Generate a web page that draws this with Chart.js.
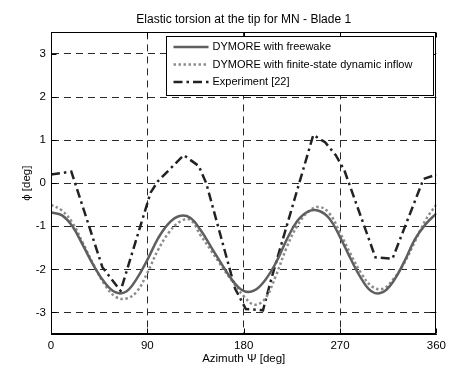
<!DOCTYPE html>
<html>
<head>
<meta charset="utf-8">
<script src="https://cdn.jsdelivr.net/npm/chart.js@4.4.0/dist/chart.umd.min.js"></script>
<style>
  html, body { margin: 0; padding: 0; background: #fff; }
  #wrap { width: 451px; height: 367px; }
</style>
</head>
<body>
<div id="wrap"><canvas id="torsionChart"></canvas></div>
<script>
// DYMORE runs, sampled every 10 deg of azimuth
const psiModel = [0, 10, 20, 30, 40, 50, 60, 70, 80, 90, 100, 110, 120, 130, 140, 150, 160, 170, 180,
                  190, 200, 210, 220, 230, 240, 250, 260, 270, 280, 290, 300, 310, 320, 330, 340, 350, 360];
const phiFreewake = [-0.68, -0.74, -1.0, -1.45, -1.92, -2.3, -2.53, -2.52, -2.22, -1.78, -1.28, -0.93, -0.76,
                     -0.8, -1.1, -1.5, -1.9, -2.27, -2.5, -2.49, -2.25, -1.85, -1.32, -0.88, -0.66, -0.64,
                     -0.82, -1.25, -1.76, -2.22, -2.52, -2.53, -2.27, -1.82, -1.3, -0.95, -0.7];
const phiInflow = [-0.5, -0.63, -0.92, -1.4, -1.9, -2.35, -2.63, -2.68, -2.52, -2.08, -1.55, -1.15, -0.9,
                   -0.85, -1.22, -1.58, -1.95, -2.3, -2.62, -2.82, -2.68, -2.15, -1.5, -0.99, -0.67, -0.55,
                   -0.7, -1.15, -1.65, -2.1, -2.4, -2.45, -2.22, -1.85, -1.35, -0.85, -0.5];

// measured torsion [22]
const psiExp = [0, 19, 48, 65, 93, 100, 124, 138, 145, 172, 182, 198, 206, 245, 256, 266, 274, 303, 319, 348, 360];
const phiExp = [0.2, 0.27, -1.95, -2.5, -0.22, 0.05, 0.65, 0.4, 0.0, -2.45, -2.92, -2.95, -2.2, 1.12, 0.95,
                0.65, 0.3, -1.72, -1.75, 0.1, 0.2];

const seriesNames = ['DYMORE with freewake', 'DYMORE with finite-state dynamic inflow', 'Experiment [22]'];
const xTicks = [0, 90, 180, 270, 360];
const yTicks = [-3, -2, -1, 0, 1, 2, 3];

const FONT = 'Liberation Sans, Arial, Helvetica, sans-serif';

function toPoints(xs, ys) {
  return xs.map((x, i) => ({ x: x, y: ys[i] }));
}

// box around the axes, inward tick marks and the boxed legend
const axesFrame = {
  id: 'axesFrame',
  afterDraw(chart) {
    const { ctx, chartArea: a, scales: { x, y } } = chart;
    const L = Math.round(a.left) + 0.5, R = Math.round(a.right) - 0.5;
    const T = Math.round(a.top) + 0.5, B = Math.round(a.bottom) - 0.5;
    ctx.save();
    ctx.setLineDash([]);
    ctx.strokeStyle = '#000';
    ctx.lineWidth = 1;
    ctx.beginPath();
    x.ticks.forEach(t => {
      const px = Math.round(x.getPixelForValue(t.value)) + 0.5;
      ctx.moveTo(px, T); ctx.lineTo(px, T + 5);
      ctx.moveTo(px, B); ctx.lineTo(px, B - 5);
    });
    y.ticks.forEach(t => {
      const py = Math.round(y.getPixelForValue(t.value)) + 0.5;
      ctx.moveTo(L, py); ctx.lineTo(L + 5, py);
      ctx.moveTo(R, py); ctx.lineTo(R - 5, py);
    });
    ctx.stroke();
    ctx.strokeRect(L, T, R - L, B - T);

    // legend
    const bx = 166.5, by = 36.5, bw = 267, bh = 59;
    ctx.fillStyle = '#fff';
    ctx.fillRect(bx, by, bw, bh);
    ctx.strokeRect(bx, by, bw, bh);
    ctx.font = '11px ' + FONT;
    ctx.textBaseline = 'middle';
    chart.data.datasets.forEach((ds, i) => {
      const ry = by + 10.5 + i * 17.5;
      ctx.save();
      ctx.strokeStyle = ds.borderColor;
      ctx.lineWidth = ds.borderWidth;
      ctx.setLineDash(ds.borderDash || []);
      ctx.beginPath();
      ctx.moveTo(bx + 7, ry);
      ctx.lineTo(bx + 42, ry);
      ctx.stroke();
      ctx.restore();
      ctx.fillStyle = '#000';
      ctx.fillText(ds.label, bx + 46, ry);
    });
    ctx.restore();
  }
};

const gridColor = c => (c.tick && (c.tick.value === 0 || c.tick.value === 360)) ? 'rgba(0,0,0,0)' : '#2a2a2a';

new Chart(document.getElementById('torsionChart'), {
  type: 'line',
  data: {
    datasets: [
      {
        label: seriesNames[0],
        data: toPoints(psiModel, phiFreewake),
        borderColor: '#5f5f5f',
        borderWidth: 2.5,
        tension: 0.4,
        pointRadius: 0
      },
      {
        label: seriesNames[1],
        data: toPoints(psiModel, phiInflow),
        borderColor: '#8c8c8c',
        borderWidth: 2.5,
        borderDash: [2.5, 2.5],
        tension: 0.4,
        pointRadius: 0
      },
      {
        label: seriesNames[2],
        data: toPoints(psiExp, phiExp),
        borderColor: '#222',
        borderWidth: 2.5,
        borderDash: [9, 4, 2.5, 4],
        tension: 0,
        pointRadius: 0
      }
    ]
  },
  options: {
    responsive: true,
    maintainAspectRatio: false,
    animation: false,
    layout: { padding: { right: 12 } },
    plugins: {
      legend: { display: false },
      tooltip: { enabled: false },
      title: {
        display: true,
        fullSize: false,
        text: 'Elastic torsion at the tip for MN - Blade 1',
        color: '#000',
        font: { family: FONT, size: 12, weight: 'normal' },
        padding: { top: 12, bottom: 6 }
      }
    },
    scales: {
      x: {
        type: 'linear',
        min: 0,
        max: 360,
        afterBuildTicks: s => { s.ticks = xTicks.map(v => ({ value: v })); },
        afterFit: s => { s.height = 33; },
        grid: { color: gridColor, drawTicks: false, lineWidth: 1 },
        border: { display: true, color: '#000', dash: [7, 5] },
        ticks: { color: '#000', padding: 5, font: { family: FONT, size: 11.5 } },
        title: {
          display: true,
          text: 'Azimuth Ψ [deg]',
          color: '#000',
          font: { family: FONT, size: 11.5 },
          padding: { top: 0, bottom: 1 }
        }
      },
      y: {
        min: -3.5,
        max: 3.5,
        afterBuildTicks: s => { s.ticks = yTicks.map(v => ({ value: v })); },
        afterFit: s => { s.width = 51; },
        grid: { color: '#2a2a2a', drawTicks: false, lineWidth: 1 },
        border: { display: true, color: '#000', dash: [7, 5] },
        ticks: { color: '#000', padding: 5, font: { family: FONT, size: 11.5 } },
        title: {
          display: true,
          text: 'ϕ [deg]',
          color: '#000',
          font: { family: FONT, size: 11.5 },
          padding: { top: 20, bottom: 0 }
        }
      }
    }
  },
  plugins: [axesFrame]
});
</script>
</body>
</html>
